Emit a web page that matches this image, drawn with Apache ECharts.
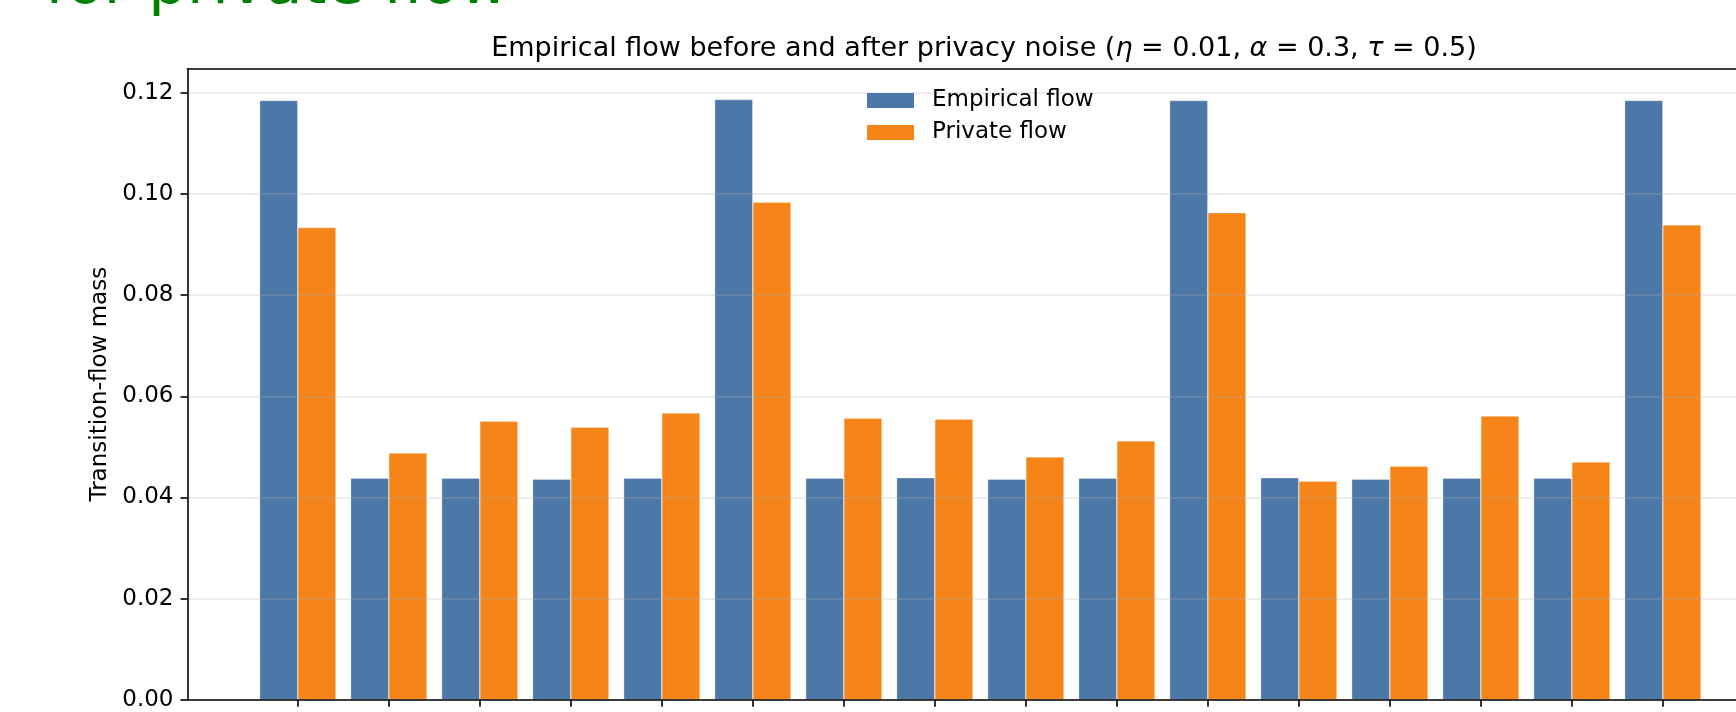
<!DOCTYPE html>
<html>
<head>
<meta charset="utf-8">
<title>Empirical flow before and after privacy noise</title>
<script src="https://cdn.jsdelivr.net/npm/echarts@6/dist/echarts.min.js"></script>
<style>
  html, body { margin: 0; padding: 0; background: #fff; }
  #chart { width: 1736px; height: 712px; }
</style>
</head>
<body>
<div id="chart"></div>
<script>
// one group of bars per transition (16)
var transitions = [0, 1, 2, 3, 4, 5, 6, 7, 8, 9, 10, 11, 12, 13, 14, 15];
var empiricalFlow = [0.1185, 0.0438, 0.0438, 0.0436, 0.0438, 0.1187, 0.0438, 0.0439,
                     0.0436, 0.0438, 0.1185, 0.0439, 0.0436, 0.0438, 0.0438, 0.1185];
var privateFlow = [0.0934, 0.0488, 0.0551, 0.0539, 0.0567, 0.0984, 0.0557, 0.0555,
                   0.0480, 0.0512, 0.0963, 0.0432, 0.0462, 0.0561, 0.0470, 0.0939];
var yTicks = [0, 0.02, 0.04, 0.06, 0.08, 0.10, 0.12];

var FONT = 'DejaVu Sans';
var chart = echarts.init(document.getElementById('chart'));

function pairs(vals) {
    return transitions.map(function (t, i) { return [t, vals[i]]; });
}

// the picture is a crop: the axes run on past the right edge,
// so the x range stops where the crop does
var X_MIN = -1.212, X_MAX = 15.804;

var option = {
    animation: false,
    backgroundColor: '#fff',
    title: {
        text: 'Empirical flow before and after privacy noise ({i|η} = 0.01, {i|α} = 0.3, {i|τ} = 0.5)',
        left: 979,
        top: 30,
        textAlign: 'center',
        textStyle: {
            fontFamily: FONT, fontSize: 27, fontWeight: 'normal', color: '#000',
            rich: {
                i: { fontFamily: FONT, fontSize: 27, fontStyle: 'italic', color: '#000' }
            }
        }
    },
    legend: {
        orient: 'vertical',
        left: 862,
        top: 84,
        itemWidth: 47,
        itemHeight: 15,
        itemGap: 9,
        icon: 'rect',
        itemStyle: { borderWidth: 0 },
        textStyle: { fontFamily: FONT, fontSize: 23, color: '#000', padding: [0, 0, 0, 13] },
        data: ['Empirical flow', 'Private flow']
    },
    graphic: [{
        // heading of the figure above, mostly cut off by the crop
        type: 'text',
        x: 509,
        y: 18,
        style: {
            text: 'for private flow',
            fontFamily: FONT,
            fontSize: 61,
            fill: '#008000',
            align: 'right',
            verticalAlign: 'bottom'
        }
    }],
    grid: {
        left: 187.5,
        top: 68.7,
        right: 0,
        bottom: 12.3,
        show: false
    },
    xAxis: [{
        type: 'value',
        min: X_MIN,
        max: X_MAX,
        z: 3,
        axisLine: { onZero: false, lineStyle: { color: '#000', width: 1.6 } },
        axisTick: { show: true, length: 7, customValues: transitions, lineStyle: { color: '#000', width: 1.6 } },
        axisLabel: { show: false },
        splitLine: { show: false }
    }, {
        // top spine only
        type: 'value',
        position: 'top',
        min: X_MIN,
        max: X_MAX,
        z: 3,
        axisLine: { show: true, onZero: false, lineStyle: { color: '#000', width: 1.6 } },
        axisTick: { show: false },
        axisLabel: { show: false },
        splitLine: { show: false }
    }],
    yAxis: {
        type: 'value',
        min: 0,
        max: 0.1248,
        interval: 0.02,
        z: 3,
        name: 'Transition-flow mass',
        nameLocation: 'middle',
        nameGap: 76,
        nameTextStyle: { fontFamily: FONT, fontSize: 23, color: '#000' },
        axisLine: { show: true, onZero: false, lineStyle: { color: '#000', width: 1.6 } },
        axisTick: { show: true, length: 7, customValues: yTicks, lineStyle: { color: '#000', width: 1.6 } },
        axisLabel: {
            customValues: yTicks,
            margin: 14,
            padding: [3, 0, 0, 0],
            fontFamily: FONT, fontSize: 23, color: '#000',
            formatter: function (v) { return v.toFixed(2); }
        },
        splitLine: { show: true, lineStyle: { color: 'rgba(176,176,176,0.3)', width: 1.6 } }
    },
    series: [
        {
            name: 'Empirical flow',
            type: 'bar',
            barWidth: 38.2,
            barGap: '0%',
            itemStyle: { color: '#4c78a8', borderColor: 'rgba(255,255,255,0.5)', borderWidth: 0.6 },
            data: pairs(empiricalFlow)
        },
        {
            name: 'Private flow',
            type: 'bar',
            barWidth: 38.2,
            barGap: '0%',
            itemStyle: { color: '#f58518', borderColor: 'rgba(255,255,255,0.5)', borderWidth: 0.6 },
            data: pairs(privateFlow)
        }
    ]
};
chart.setOption(option);
</script>
</body>
</html>
